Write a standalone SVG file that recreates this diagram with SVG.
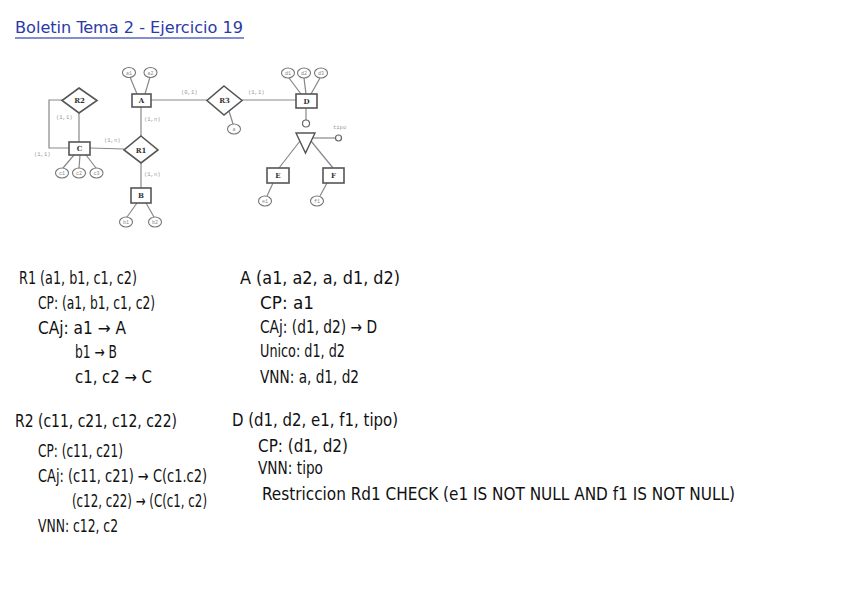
<svg xmlns="http://www.w3.org/2000/svg" width="848" height="599" viewBox="0 0 848 599">
<style>
.ent rect{fill:#fff;stroke:#555;stroke-width:1.6}
.rel polygon{fill:#fff;stroke:#555;stroke-width:1.6}
.att ellipse{fill:#fff;stroke:#777;stroke-width:1.1}
.lbl{font-family:"DejaVu Serif",serif;font-weight:bold;font-size:7px;fill:#333;text-anchor:middle}
.atx{font-family:"Liberation Mono",monospace;font-size:5px;fill:#888;text-anchor:middle}
.card{font-family:"Liberation Mono",monospace;font-size:5.5px;fill:#999}
.con line,.con polyline{stroke:#888;stroke-width:1.2;fill:none}
.hw{font-family:"DejaVu Sans Condensed","DejaVu Sans",sans-serif;font-size:17px;fill:#111}
</style>
<rect width="848" height="599" fill="#fff"/>
<g id="title">
<text x="15" y="33" font-family="DejaVu Sans Condensed, DejaVu Sans, sans-serif" font-size="16" fill="#2a3aa8" textLength="228" lengthAdjust="spacingAndGlyphs">Boletin Tema 2 - Ejercicio 19</text>
<line x1="15" y1="38" x2="244" y2="38" stroke="#5a68c0" stroke-width="1.6"/>
</g>
<g class="con" id="connectors">
<line x1="137" y1="94" x2="130" y2="77"/>
<line x1="145" y1="94" x2="150" y2="77"/>
<line x1="141" y1="107" x2="141" y2="137"/>
<line x1="141" y1="163" x2="141" y2="188"/>
<line x1="90" y1="148" x2="124" y2="149"/>
<line x1="79" y1="113" x2="79" y2="142"/>
<polyline points="62,100 49,100 49,148 69,148"/>
<line x1="74" y1="155" x2="63" y2="168"/>
<line x1="80" y1="155" x2="79" y2="168"/>
<line x1="86" y1="155" x2="96" y2="168"/>
<line x1="137" y1="203" x2="127" y2="217"/>
<line x1="146" y1="203" x2="154" y2="217"/>
<line x1="151" y1="100" x2="207" y2="100"/>
<line x1="242" y1="100" x2="296" y2="100"/>
<line x1="229" y1="111" x2="233" y2="124"/>
<line x1="301" y1="94" x2="289" y2="78"/>
<line x1="306" y1="94" x2="304" y2="78"/>
<line x1="311" y1="94" x2="320" y2="78"/>
<line x1="306" y1="108" x2="306" y2="120"/>
<line x1="310" y1="138" x2="335" y2="138"/>
<line x1="300" y1="141" x2="279" y2="168"/>
<line x1="311" y1="141" x2="333" y2="168"/>
<line x1="273" y1="183" x2="267" y2="196"/>
<line x1="327" y1="183" x2="320" y2="196"/>
</g>
<g id="A" class="ent"><rect x="132" y="94" width="19" height="13"/><text class="lbl" x="141.5" y="103">A</text></g>
<g id="B" class="ent"><rect x="131" y="188" width="20" height="15"/><text class="lbl" x="141" y="198">B</text></g>
<g id="C" class="ent"><rect x="69" y="142" width="21" height="13"/><text class="lbl" x="79.5" y="151">C</text></g>
<g id="D" class="ent"><rect x="296" y="94" width="21" height="14"/><text class="lbl" x="306.5" y="104">D</text></g>
<g id="E" class="ent"><rect x="267" y="168" width="22" height="15"/><text class="lbl" x="278" y="178">E</text></g>
<g id="F" class="ent"><rect x="323" y="168" width="21" height="15"/><text class="lbl" x="333.5" y="178">F</text></g>
<g id="R1" class="rel"><polygon points="141,136 158,150 141,163 124,150"/><text class="lbl" x="141" y="152.5">R1</text></g>
<g id="R2" class="rel"><polygon points="79,88 97,100.5 79,113 62,100.5"/><text class="lbl" x="79.5" y="103">R2</text></g>
<g id="R3" class="rel"><polygon points="224,86 242,100.5 224,115 207,100.5"/><text class="lbl" x="224.5" y="103">R3</text></g>
<g id="ISA">
<circle cx="306" cy="123.5" r="3.5" fill="#fff" stroke="#666" stroke-width="1.2"/>
<polygon points="296,133 315,133 305.5,153" fill="#fff" stroke="#555" stroke-width="1.4"/>
<circle cx="338.5" cy="138" r="3" fill="#fff" stroke="#666" stroke-width="1.2"/>
<text class="card" x="333" y="129">tipo</text>
</g>
<g id="attrs" class="att">
<ellipse cx="129" cy="72.5" rx="6.5" ry="5"/><text class="atx" x="129" y="74.5">a1</text>
<ellipse cx="150.5" cy="72.5" rx="6.5" ry="5"/><text class="atx" x="150.5" y="74.5">a2</text>
<ellipse cx="62" cy="173" rx="6.5" ry="5"/><text class="atx" x="62" y="175">c1</text>
<ellipse cx="79" cy="173" rx="6.5" ry="5"/><text class="atx" x="79" y="175">c2</text>
<ellipse cx="96.5" cy="173" rx="6.5" ry="5"/><text class="atx" x="96.5" y="175">c3</text>
<ellipse cx="126" cy="222" rx="6.5" ry="5"/><text class="atx" x="126" y="224">b1</text>
<ellipse cx="155" cy="222" rx="6.5" ry="5"/><text class="atx" x="155" y="224">b2</text>
<ellipse cx="234" cy="129" rx="6.5" ry="5"/><text class="atx" x="234" y="131">a</text>
<ellipse cx="288" cy="73" rx="6.5" ry="5"/><text class="atx" x="288" y="75">d1</text>
<ellipse cx="304" cy="73" rx="6.5" ry="5"/><text class="atx" x="304" y="75">d2</text>
<ellipse cx="321" cy="73" rx="6.5" ry="5"/><text class="atx" x="321" y="75">d3</text>
<ellipse cx="265" cy="201" rx="6.5" ry="5"/><text class="atx" x="265" y="203">e1</text>
<ellipse cx="317" cy="201" rx="6.5" ry="5"/><text class="atx" x="317" y="203">f1</text>
</g>
<g id="cards">
<text class="card" x="56" y="119">(1,1)</text>
<text class="card" x="144" y="121">(1,n)</text>
<text class="card" x="104" y="142">(1,n)</text>
<text class="card" x="34" y="156">(1,1)</text>
<text class="card" x="144" y="176">(1,n)</text>
<text class="card" x="181" y="94">(0,1)</text>
<text class="card" x="248" y="94">(1,1)</text>
</g>
<g id="notes" class="hw">
<text x="19" y="284" textLength="118" lengthAdjust="spacingAndGlyphs">R1 (a1, b1, c1, c2)</text>
<text x="38" y="309" textLength="117" lengthAdjust="spacingAndGlyphs">CP: (a1, b1, c1, c2)</text>
<text x="38" y="334" textLength="88" lengthAdjust="spacingAndGlyphs">CAj: a1 → A</text>
<text x="75" y="358" textLength="42" lengthAdjust="spacingAndGlyphs">b1 → B</text>
<text x="75" y="383" textLength="77" lengthAdjust="spacingAndGlyphs">c1, c2 → C</text>
<text x="240" y="284" textLength="160" lengthAdjust="spacingAndGlyphs">A (a1, a2, a, d1, d2)</text>
<text x="260" y="309" textLength="54" lengthAdjust="spacingAndGlyphs">CP: a1</text>
<text x="260" y="333" textLength="117" lengthAdjust="spacingAndGlyphs">CAj: (d1, d2) → D</text>
<text x="260" y="357" textLength="85" lengthAdjust="spacingAndGlyphs">Unico: d1, d2</text>
<text x="260" y="383" textLength="99" lengthAdjust="spacingAndGlyphs">VNN: a, d1, d2</text>
<text x="15" y="427" textLength="162" lengthAdjust="spacingAndGlyphs">R2 (c11, c21, c12, c22)</text>
<text x="38" y="457" textLength="85" lengthAdjust="spacingAndGlyphs">CP: (c11, c21)</text>
<text x="38" y="482" textLength="169" lengthAdjust="spacingAndGlyphs">CAj: (c11, c21) → C(c1.c2)</text>
<text x="72" y="507" textLength="135" lengthAdjust="spacingAndGlyphs">(c12, c22) → (C(c1, c2)</text>
<text x="38" y="532" textLength="80" lengthAdjust="spacingAndGlyphs">VNN: c12, c2</text>
<text x="232" y="426" textLength="166" lengthAdjust="spacingAndGlyphs">D (d1, d2, e1, f1, tipo)</text>
<text x="258" y="452" textLength="90" lengthAdjust="spacingAndGlyphs">CP: (d1, d2)</text>
<text x="258" y="474" textLength="65" lengthAdjust="spacingAndGlyphs">VNN: tipo</text>
<text x="262" y="500" textLength="473" lengthAdjust="spacingAndGlyphs">Restriccion Rd1  CHECK (e1 IS NOT NULL AND f1 IS NOT NULL)</text>
</g>
</svg>
